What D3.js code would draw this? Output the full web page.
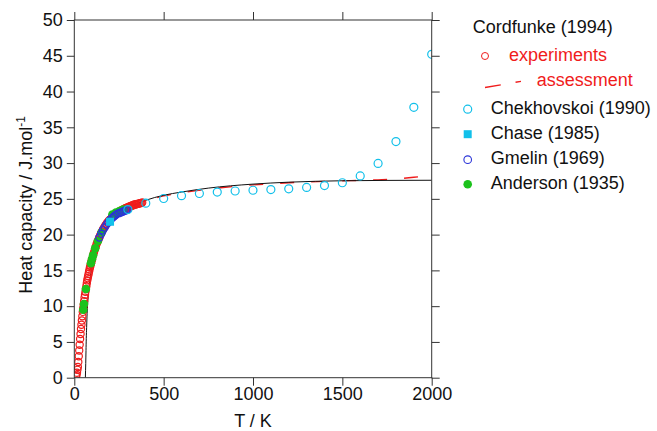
<!DOCTYPE html>
<html>
<head>
<meta charset="utf-8">
<script src="https://cdn.jsdelivr.net/npm/d3@7"></script>
<style>
  html, body { margin: 0; padding: 0; background: #fff; }
  svg { display: block; font-family: "Liberation Sans", Arial, Helvetica, sans-serif; }
</style>
</head>
<body>
<svg id="chart" width="657" height="431"></svg>
<script>
// ---------------- data ----------------
const xTicks = [0, 500, 1000, 1500, 2000];
const yTicks = [0, 5, 10, 15, 20, 25, 30, 35, 40, 45, 50];

// Cordfunke (1994) experiments
const expT = [10, 12.5, 15, 17.5, 20, 22.5, 25, 27.5, 30, 32.5, 35, 37.5, 40, 42.5, 45, 47.5, 50, 52.5, 55, 57.5,
  60, 62.5, 65, 67.5, 70, 72.5, 75, 77.5, 80, 82.5, 85, 87.5, 90, 92.5, 95, 97.5, 100,
  105, 110, 115, 120, 125, 130, 135, 140, 145, 150, 155, 160, 165, 170, 175, 180, 185, 190, 195, 200,
  205, 210, 215, 220, 225, 230, 235, 240, 245, 250, 255, 260, 265, 270, 275, 280, 285, 290, 295, 300,
  305, 310, 315, 320, 325, 330, 335, 340, 345, 350, 355, 360, 365, 370, 375, 380];
const expCp = [0.2, 0.4, 0.7, 1.1, 1.5, 2.2, 3.0, 3.8, 4.6, 5.4, 6.1, 6.8, 7.4, 8.0, 8.6, 9.2, 9.7, 10.2, 10.7, 11.2,
  11.6, 12.0, 12.4, 12.8, 13.2, 13.6, 13.9, 14.2, 14.5, 14.8, 15.1, 15.4, 15.6, 15.9, 16.1, 16.4, 16.6,
  17.1, 17.5, 17.9, 18.3, 18.7, 19.0, 19.3, 19.6, 19.9, 20.2, 20.4, 20.7, 20.9, 21.1, 21.3, 21.5, 21.7, 21.8, 22.0, 22.1,
  22.2, 22.4, 22.5, 22.6, 22.7, 22.8, 22.9, 23.0, 23.1, 23.2, 23.2, 23.3, 23.4, 23.5, 23.5, 23.6, 23.7, 23.7, 23.8, 23.8,
  23.9, 23.9, 24.0, 24.0, 24.1, 24.1, 24.2, 24.2, 24.2, 24.3, 24.3, 24.3, 24.4, 24.4, 24.4, 24.5];

// Cordfunke (1994) assessment
const assessT = [300, 350, 400, 500, 600, 700, 800, 900, 1000, 1100, 1200, 1300, 1400, 1500, 1600, 1700, 1800, 1900, 2000];
const assessCp = [23.75, 24.25, 24.7, 25.4, 25.85, 26.2, 26.5, 26.75, 26.95, 27.1, 27.25, 27.35, 27.45, 27.52, 27.58, 27.66, 27.78, 28.02, 28.3];

// Fitted curve (black)
const fitT = [62, 63, 64, 65.5, 67, 69, 71, 74, 78, 83, 90, 100, 110, 120, 135, 150, 175, 200, 250, 300, 350, 400, 500, 600, 750, 1000, 1200, 1500, 1750, 2000];
const fitCp = [0, 1, 2, 3.8, 5.5, 7.0, 8.5, 10.0, 11.5, 12.7, 14.2, 15.5, 16.5, 17.4, 18.5, 19.5, 20.7, 21.6, 22.8, 23.7, 24.3, 24.8, 25.5, 25.95, 26.5, 27.06, 27.33, 27.53, 27.58, 27.6];

// Chekhovskoi (1990)
const chekT = [300, 400, 500, 600, 700, 800, 900, 1000, 1100, 1200, 1300, 1400, 1500, 1600, 1700, 1800, 1900, 2000];
const chekCp = [23.5, 24.4, 25.05, 25.45, 25.75, 25.95, 26.1, 26.2, 26.3, 26.4, 26.6, 26.85, 27.25, 28.2, 29.95, 33.0, 37.8, 45.2];

// Chase (1985)
const chaseT = [200];
const chaseCp = [21.8];

// Gmelin (1969)
const gmelinT = [140, 150, 160, 170, 180, 190, 200, 210, 220, 230, 240, 250, 260, 270, 280, 290, 298];
const gmelinCp = [19.6, 20.1, 20.6, 21.0, 21.4, 21.7, 22.0, 22.3, 22.5, 22.7, 22.9, 23.0, 23.1, 23.2, 23.3, 23.4, 23.5];

// Anderson (1935)
const andT = [50, 54, 65, 93, 99, 105, 117, 132, 152, 213, 233, 253, 273];
const andCp = [9.5, 10.3, 12.4, 16.0, 16.6, 17.1, 18.1, 19.1, 20.3, 22.8, 23.1, 23.3, 23.5];

// Legend
const legendTitle = "Cordfunke (1994)";
const legendNames = ["Chekhovskoi (1990)", "Chase (1985)", "Gmelin (1969)", "Anderson (1935)"];

// ---------------- drawing ----------------
const RED = "#f01c1c", CYAN = "#12c0ea", BLUE = "#2a34d8", GREEN = "#1cc21c", AXIS = "#333";
const FONT = "'Liberation Sans', Arial, Helvetica, sans-serif";
const svg = d3.select("#chart");
const m = { left: 74.3, right: 431.7, top: 20, bottom: 377.7 };
const x = d3.scaleLinear().domain([0, 2000]).range([m.left, m.right]);
const y = d3.scaleLinear().domain([0, 50]).range([m.bottom, m.top]);
const zip = (a, b) => a.map((v, i) => [v, b[i]]);

svg.append("defs").append("clipPath").attr("id", "clip")
  .append("rect").attr("x", m.left).attr("y", m.top)
  .attr("width", m.right - m.left).attr("height", m.bottom - m.top);

const plot = svg.append("g").attr("clip-path", "url(#clip)");
const line = d3.line().x(d => x(d[0])).y(d => y(d[1])).curve(d3.curveMonotoneX);

plot.append("path").datum(zip(assessT, assessCp)).attr("d", line)
  .attr("fill", "none").attr("stroke", RED).attr("stroke-width", 1.3).attr("stroke-dasharray", "14,17");
plot.append("path").datum(zip(fitT, fitCp)).attr("d", line)
  .attr("fill", "none").attr("stroke", "#111").attr("stroke-width", 1);

plot.append("g").selectAll("circle").data(zip(expT, expCp)).join("circle")
  .attr("cx", d => x(d[0])).attr("cy", d => y(d[1])).attr("r", 3.6)
  .attr("fill", "none").attr("stroke", RED).attr("stroke-width", 1.2);

plot.append("g").selectAll("circle").data(zip(andT, andCp)).join("circle")
  .attr("cx", d => x(d[0])).attr("cy", d => y(d[1])).attr("r", 4.3)
  .attr("fill", GREEN).attr("stroke", "none");

plot.append("g").selectAll("circle").data(zip(gmelinT, gmelinCp)).join("circle")
  .attr("cx", d => x(d[0])).attr("cy", d => y(d[1])).attr("r", 3.6)
  .attr("fill", "none").attr("stroke", BLUE).attr("stroke-width", 1.2);

plot.append("g").selectAll("rect").data(zip(chaseT, chaseCp)).join("rect")
  .attr("x", d => x(d[0]) - 4).attr("y", d => y(d[1]) - 4).attr("width", 8).attr("height", 8)
  .attr("fill", CYAN);

plot.append("g").selectAll("circle").data(zip(chekT, chekCp)).join("circle")
  .attr("cx", d => x(d[0])).attr("cy", d => y(d[1])).attr("r", 4)
  .attr("fill", "none").attr("stroke", CYAN).attr("stroke-width", 1.2);

// axes
function styleAxis(g) {
  g.select(".domain").remove();
  g.selectAll(".tick line").attr("stroke", AXIS).attr("stroke-width", 1);
  g.selectAll(".tick text").attr("fill", "#111").style("font-size", "18px").style("font-family", FONT);
}
const fmt = d3.format("d");
svg.append("g").attr("transform", `translate(0,${m.bottom})`)
  .call(d3.axisBottom(x).tickValues(xTicks).tickFormat(fmt).tickSize(8).tickPadding(2)).call(styleAxis);
svg.append("g").attr("transform", `translate(0,${m.top})`)
  .call(d3.axisTop(x).tickValues(xTicks).tickSize(8).tickFormat("")).call(styleAxis);
svg.append("g").attr("transform", `translate(${m.left},0)`)
  .call(d3.axisLeft(y).tickValues(yTicks).tickFormat(fmt).tickSize(7.5).tickPadding(4)).call(styleAxis);
svg.append("g").attr("transform", `translate(${m.right},0)`)
  .call(d3.axisRight(y).tickValues(yTicks).tickSize(8).tickFormat("")).call(styleAxis);

svg.append("rect").attr("x", m.left).attr("y", m.top)
  .attr("width", m.right - m.left).attr("height", m.bottom - m.top)
  .attr("fill", "none").attr("stroke", AXIS).attr("stroke-width", 1);

// axis titles
svg.append("text").attr("x", (m.left + m.right) / 2).attr("y", 427)
  .attr("text-anchor", "middle").style("font-size", "18px").attr("fill", "#111").text("T / K");
const yt = svg.append("text").attr("transform", "translate(32,205) rotate(-90)")
  .attr("text-anchor", "middle").style("font-size", "18px").attr("fill", "#111");
yt.append("tspan").text("Heat capacity / J.mol");
yt.append("tspan").attr("dy", -7).style("font-size", "12px").text("-1");

// legend
const lg = svg.append("g").style("font-size", "18px");
lg.append("text").attr("x", 472.7).attr("y", 33).attr("fill", "#111").text(legendTitle);
lg.append("circle").attr("cx", 485).attr("cy", 56).attr("r", 3.5)
  .attr("fill", "none").attr("stroke", RED).attr("stroke-width", 1);
lg.append("text").attr("x", 509).attr("y", 60.5).attr("fill", RED).text("experiments");
lg.append("line").attr("x1", 485).attr("y1", 87.5).attr("x2", 521).attr("y2", 81.3)
  .attr("stroke", RED).attr("stroke-width", 1.3).attr("stroke-dasharray", "16,15");
lg.append("text").attr("x", 536.7).attr("y", 86).attr("fill", RED).text("assessment");

const rowsY = [113.5, 138.5, 164, 188.5];
lg.append("circle").attr("cx", 467.7).attr("cy", rowsY[0] - 4.3).attr("r", 4)
  .attr("fill", "none").attr("stroke", CYAN).attr("stroke-width", 1.2);
lg.append("rect").attr("x", 467.7 - 4).attr("y", rowsY[1] - 4.3 - 4).attr("width", 8).attr("height", 8).attr("fill", CYAN);
lg.append("circle").attr("cx", 467.7).attr("cy", rowsY[2] - 4.3).attr("r", 3.8)
  .attr("fill", "none").attr("stroke", BLUE).attr("stroke-width", 1.1);
lg.append("circle").attr("cx", 467.7).attr("cy", rowsY[3] - 4.3).attr("r", 4.3).attr("fill", GREEN);

legendNames.forEach((n, i) => {
  lg.append("text").attr("x", 490.7).attr("y", rowsY[i]).attr("fill", "#111").text(n);
});
</script>
</body>
</html>
